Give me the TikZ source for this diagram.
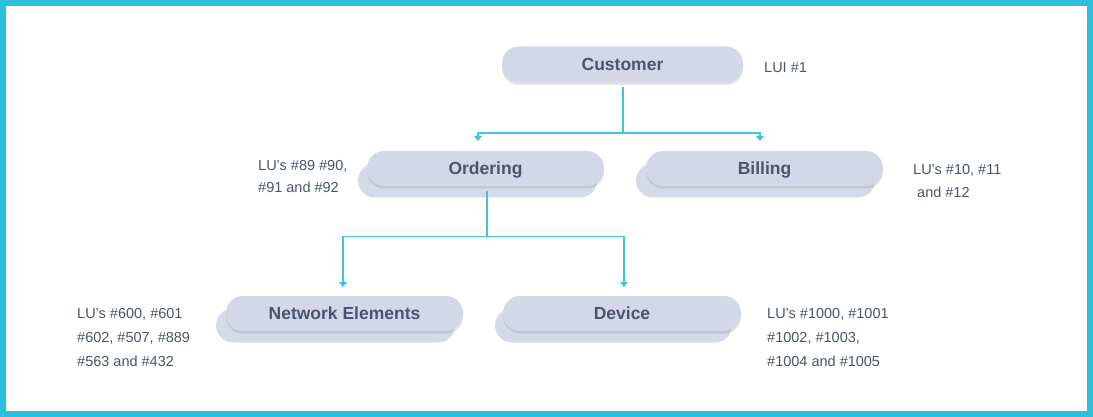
\documentclass[tikz,border=0pt]{standalone}
\usepackage{fontspec}
\setmainfont{Liberation Sans}
\usetikzlibrary{shadows,arrows.meta}
\definecolor{frame}{HTML}{2BC0DC}
\definecolor{conn}{HTML}{3EC6DF}
\definecolor{boxfill}{HTML}{D3D7E7}
\definecolor{backfill}{HTML}{D6D9E8}
\definecolor{labtext}{HTML}{4A5570}
\definecolor{smalltext}{HTML}{4A5470}
\tikzset{
  frontbox/.style={rectangle, rounded corners=17pt, fill=boxfill, inner sep=0pt,
    minimum height=35pt, text=labtext, text height=12.5pt, text depth=0pt,
    font=\fontsize{17.5}{20}\selectfont\bfseries,
    drop shadow={opacity=0.22, shadow xshift=0pt, shadow yshift=-2.5pt}},
  backbox/.style={rectangle, rounded corners=17pt, fill=backfill, inner sep=0pt,
    minimum height=34pt},
  note/.style={anchor=west, inner sep=0pt, align=left, text=smalltext},
  connline/.style={draw=conn, line width=1.4pt},
  arr/.style={-{Triangle[width=8pt,length=5pt]}}
}
\begin{document}
\begin{tikzpicture}[x=1pt,y=-1pt]
\useasboundingbox (0,0) rectangle (1093,417);
\draw[draw=frame, line width=6pt] (3,3) rectangle (1090,414);

% back boxes
\node[backbox, minimum width=239pt] (ordB) at (477.5,180.5) {};
\node[backbox, minimum width=239pt] (bilB) at (755.5,180.5) {};
\node[backbox, minimum width=239pt] (netB) at (335.5,325.5) {};
\node[backbox, minimum width=237pt] (devB) at (613.5,325.5) {};

% front boxes
\node[frontbox, minimum width=241pt, minimum height=36pt] (cust) at (622.5,64.5) {Customer};
\node[frontbox, minimum width=237pt] (ord) at (485.5,168.5) {Ordering};
\node[frontbox, minimum width=237pt] (bil) at (764.5,168.5) {Billing};
\node[frontbox, minimum width=237pt] (net) at (344.5,313.5) {Network Elements};
\node[frontbox, minimum width=238pt] (dev) at (622,313.5) {Device};

% connectors
\coordinate (j1) at (623,133);
\coordinate (a1) at (478,141);
\coordinate (a2) at (760,141);
\draw[connline] ([yshift=-4pt]cust.south -| j1) -- (j1);
\draw[connline, arr] (j1) -| (a1);
\draw[connline, arr] (j1) -| (a2);

\coordinate (j2) at (487,236.5);
\coordinate (a3) at (343,287);
\coordinate (a4) at (624,287);
\draw[connline] ([yshift=-5pt]ord.south -| j2) -- (j2);
\draw[connline, arr] (j2) -| (a3);
\draw[connline, arr] (j2) -| (a4);

% notes
\node[note, font=\fontsize{14.5}{23}\selectfont] (n1) at (764,67.5) {LUI \#1};
\node[note, font=\fontsize{14.5}{22}\selectfont] (n2) at (258,176.5) {LU’s \#89 \#90,\\\#91 and \#92};
\node[note, font=\fontsize{14.5}{23}\selectfont] (n3) at (913,181) {LU’s \#10, \#11\\\hspace*{4pt}and \#12};
\node[note, font=\fontsize{14.5}{24}\selectfont] (n4) at (77,337.5) {LU’s \#600, \#601\\\#602, \#507, \#889\\\#563 and \#432};
\node[note, font=\fontsize{14.5}{24}\selectfont] (n5) at (767,337.5) {LU’s \#1000, \#1001\\\#1002, \#1003,\\\#1004 and \#1005};
\end{tikzpicture}
\end{document}
